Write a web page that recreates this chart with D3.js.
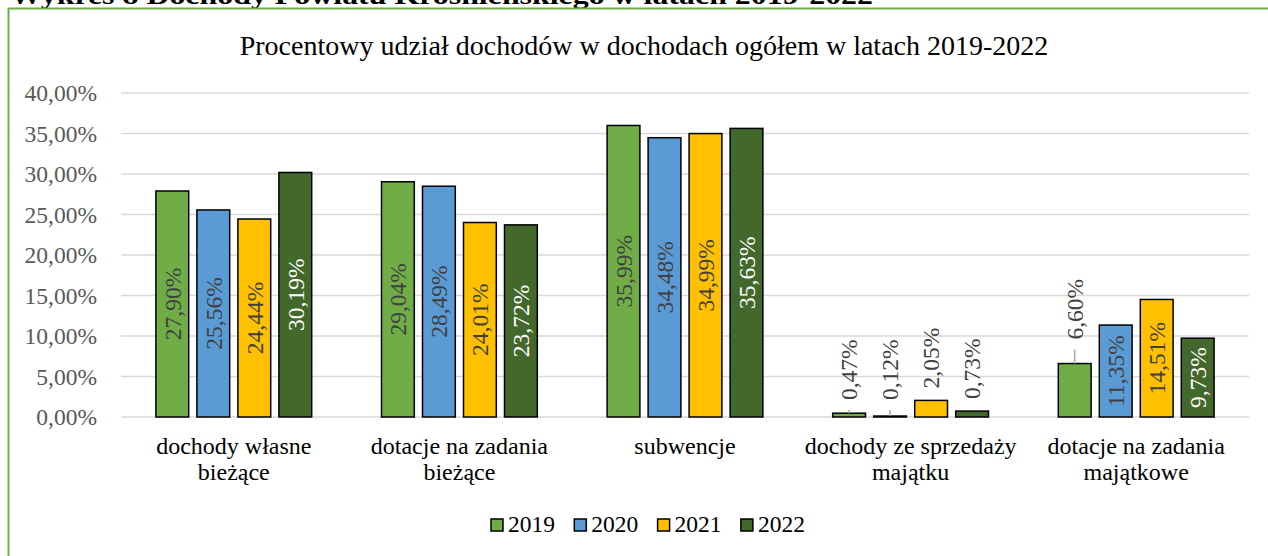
<!DOCTYPE html>
<html>
<head>
<meta charset="utf-8">
<script src="https://cdn.jsdelivr.net/npm/d3@7"></script>
<style>
  body { margin: 0; background: #fff; }
  svg text { font-family: "Liberation Serif", "DejaVu Serif", serif; }
</style>
</head>
<body>
<svg id="chart" width="1268" height="556"></svg>
<script>
const categories = [
    ["dochody własne", "bieżące"],
    ["dotacje na zadania", "bieżące"],
    ["subwencje"],
    ["dochody ze sprzedaży", "majątku"],
    ["dotacje na zadania", "majątkowe"]
];
const years = ["2019", "2020", "2021", "2022"];
const v2019 = [27.90, 29.04, 35.99, 0.47, 6.60];
const v2020 = [25.56, 28.49, 34.48, 0.12, 11.35];
const v2021 = [24.44, 24.01, 34.99, 2.05, 14.51];
const v2022 = [30.19, 23.72, 35.63, 0.73, 9.73];
const yTicks = [0, 5, 10, 15, 20, 25, 30, 35, 40];
const colors = ["#70ad47", "#5b9bd5", "#ffc000", "#43682b"];
const labelColors = ["#404040", "#404040", "#404040", "#ffffff"];

const series = [v2019, v2020, v2021, v2022];
const fmt = v => v.toFixed(2).replace(".", ",") + "%";

const svg = d3.select("#chart");

// naglowek nad ramka (uciety tak jak w oryginale)
svg.append("text")
    .attr("x", 10)
    .attr("y", 4)
    .attr("font-size", 26)
    .attr("font-weight", "bold")
    .attr("textLength", 863)
    .attr("lengthAdjust", "spacingAndGlyphs")
    .text("Wykres 8 Dochody Powiatu Krośnieńskiego w latach 2019-2022");

// ramka wykresu
svg.append("rect")
    .attr("x", 8.5)
    .attr("y", 8.5)
    .attr("width", 1400)
    .attr("height", 700)
    .attr("fill", "none")
    .attr("stroke", "#70ad47")
    .attr("stroke-width", 2);

svg.append("text")
    .attr("x", 644)
    .attr("y", 55)
    .attr("text-anchor", "middle")
    .attr("font-size", 28)
    .attr("fill", "#000")
    .text("Procentowy udział dochodów w dochodach ogółem w latach 2019-2022");

const x0 = d3.scaleBand()
    .domain(d3.range(categories.length))
    .range([121, 1249]);

const x1 = d3.scaleBand()
    .domain(years)
    .range([(x0.bandwidth() - 155.8) / 2, (x0.bandwidth() + 155.8) / 2])
    .paddingInner(0.2);

const y = d3.scaleLinear()
    .domain([0, 40])
    .range([417, 93]);

// siatka
svg.append("g")
    .selectAll("line")
    .data(yTicks)
    .enter().append("line")
    .attr("x1", 121)
    .attr("x2", 1249)
    .attr("y1", d => y(d))
    .attr("y2", d => y(d))
    .attr("stroke", "#d9d9d9")
    .attr("stroke-width", 1.5);

// os Y
const yAxis = svg.append("g")
    .attr("transform", "translate(101,0)")
    .call(d3.axisLeft(y).tickValues(yTicks).tickSize(0).tickPadding(4)
        .tickFormat(d => d.toFixed(2).replace(".", ",") + "%"));
yAxis.select(".domain").remove();
yAxis.selectAll("text")
    .attr("font-size", 23.5)
    .attr("fill", "#595959");

// slupki
const groups = svg.append("g")
    .selectAll("g")
    .data(categories)
    .enter().append("g")
    .attr("transform", (d, i) => `translate(${x0(i)},0)`);

groups.each(function (cat, ci) {
    const g = d3.select(this);
    years.forEach((yr, si) => {
        const v = series[si][ci];
        const bx = x1(yr);
        const bw = x1.bandwidth();
        g.append("rect")
            .attr("x", bx)
            .attr("y", y(v))
            .attr("width", bw)
            .attr("height", y(0) - y(v))
            .attr("fill", colors[si])
            .attr("stroke", "#000")
            .attr("stroke-width", 1.5);

        const cx = bx + bw / 2;
        if (v >= 8) {
            g.append("text")
                .attr("transform", `translate(${cx},${(y(v) + y(0)) / 2}) rotate(-90)`)
                .attr("text-anchor", "middle")
                .attr("dy", "0.35em")
                .attr("font-size", 23.5)
                .attr("fill", labelColors[si])
                .text(fmt(v));
        } else {
            const top = y(v);
            const bottom = v > 5 ? top - 24 : Math.min(top - 12, 400);
            if (top - bottom > 12) {
                g.append("line")
                    .attr("x1", cx).attr("x2", cx)
                    .attr("y1", top).attr("y2", bottom + 10)
                    .attr("stroke", "#a6a6a6")
                    .attr("stroke-width", 1.5);
            }
            g.append("text")
                .attr("transform", `translate(${cx},${bottom}) rotate(-90)`)
                .attr("text-anchor", "start")
                .attr("dy", "0.35em")
                .attr("font-size", 23.5)
                .attr("fill", "#404040")
                .text(fmt(v));
        }
    });

    g.selectAll("text.cat")
        .data(cat)
        .enter().append("text")
        .attr("class", "cat")
        .attr("x", x0.bandwidth() / 2)
        .attr("y", (d, i) => 454 + i * 26)
        .attr("text-anchor", "middle")
        .attr("font-size", 24)
        .attr("fill", "#000")
        .text(d => d);
});

// legenda
const legend = svg.append("g")
    .selectAll("g")
    .data(years)
    .enter().append("g")
    .attr("transform", (d, i) => `translate(${491 + i * 83.3},519)`);

legend.append("rect")
    .attr("width", 12)
    .attr("height", 12)
    .attr("fill", (d, i) => colors[i])
    .attr("stroke", "#000")
    .attr("stroke-width", 1.5);

legend.append("text")
    .attr("x", 17)
    .attr("y", 13)
    .attr("font-size", 23.5)
    .attr("fill", "#000")
    .text(d => d);
</script>
</body>
</html>
